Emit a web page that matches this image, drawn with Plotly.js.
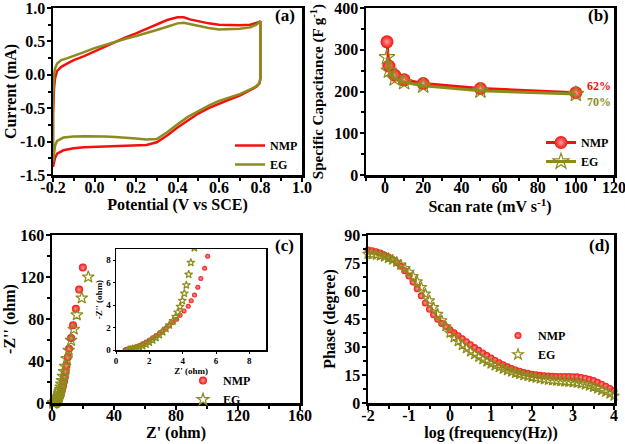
<!DOCTYPE html>
<html><head><meta charset="utf-8">
<script src="https://cdn.plot.ly/plotly-3.0.1.min.js"></script>
<style>html,body{margin:0;padding:0;background:#fff}#g{width:625px;height:444px}</style>
</head><body><div id="g"></div>
<script>
// ---------- Data ----------
// (a) CV
const cvPotential = [-0.2,-0.2,-0.195,-0.19,-0.18,-0.16,-0.13,-0.1,-0.05,0.0,0.05,0.1,0.15,0.2,0.25,0.3,0.35,0.4,0.43,0.46,0.5,0.55,0.6,0.65,0.7,0.75,0.78,0.795,0.8,
  0.8,0.795,0.78,0.75,0.7,0.65,0.6,0.55,0.5,0.45,0.4,0.35,0.3,0.25,0.2,0.15,0.1,0.05,0.0,-0.05,-0.1,-0.15,-0.18,-0.19,-0.2];
const cvNMP = [-1.38,-0.6,-0.2,-0.05,0.06,0.12,0.17,0.22,0.28,0.35,0.43,0.5,0.56,0.62,0.69,0.76,0.82,0.86,0.86,0.83,0.8,0.77,0.75,0.74,0.74,0.75,0.77,0.79,0.8,
  -0.05,-0.13,-0.18,-0.23,-0.31,-0.37,-0.43,-0.5,-0.58,-0.68,-0.79,-0.91,-1.01,-1.05,-1.055,-1.055,-1.06,-1.07,-1.075,-1.085,-1.1,-1.13,-1.18,-1.24,-1.38];
const cvEG = [-1.3,-0.4,0.0,0.1,0.17,0.22,0.25,0.28,0.34,0.4,0.45,0.5,0.54,0.58,0.62,0.67,0.72,0.77,0.78,0.76,0.73,0.7,0.68,0.68,0.69,0.71,0.75,0.79,0.8,
  -0.05,-0.12,-0.17,-0.22,-0.29,-0.34,-0.39,-0.46,-0.54,-0.63,-0.74,-0.86,-0.96,-0.97,-0.955,-0.94,-0.93,-0.925,-0.92,-0.92,-0.925,-0.94,-0.99,-1.06,-1.3];

// (b) specific capacitance
const scanRate = [1,2,5,10,20,50,100];
const capNMP = [319,261,239,228,219,207,197];
const capEG  = [282,250,231,222,214,202,194];

// (c) Nyquist
const zReNMP = [0.55,0.6,0.7,0.85,1.0,1.2,1.4,1.6,1.8,2.0,2.2,2.4,2.6,2.8,3.0,3.2,3.42,3.64,3.84,4.08,4.33,4.51,4.71,4.91,5.09,5.32,5.5,
  5.85,6.25,6.7,7.2,7.75,8.3,8.8,9.3,10.2,11.0,12.3,13.6,15.4,17.5,19.9];
const zImNMP = [0.0,0.04,0.08,0.13,0.19,0.28,0.4,0.55,0.72,0.9,1.1,1.3,1.5,1.72,1.95,2.18,2.44,2.74,3.1,3.48,3.89,4.39,4.9,5.6,6.37,7.29,8.35,
  9.9,11.9,14.3,17.1,20.6,24.7,29.6,35.5,43.5,51.6,62,74,89.7,108,129];
const zReEG = [0.75,0.85,1.0,1.2,1.4,1.6,1.8,2.0,2.2,2.4,2.6,2.8,3.0,3.2,3.42,3.58,3.7,3.84,3.98,4.1,4.22,4.36,4.49,
  4.7,4.95,5.25,5.6,6.05,6.55,7.1,7.75,8.45,9.5,10.8,12.3,14.05,16.0,19.2,23.4];
const zImEG = [0.0,0.04,0.09,0.16,0.26,0.37,0.51,0.68,0.88,1.1,1.35,1.62,1.9,2.22,2.59,2.97,3.36,3.86,4.39,5.04,5.78,6.73,7.79,
  9.1,10.8,12.8,15.2,18.0,21.4,25.4,30.0,35.0,42.3,50.3,59.7,70.3,83.9,100,120];

// (d) Bode phase
const logFreq = [-2.0,-1.9,-1.8,-1.7,-1.6,-1.5,-1.4,-1.3,-1.2,-1.1,-1.0,-0.9,-0.8,-0.7,-0.6,-0.5,-0.4,-0.3,-0.2,-0.1,
  0.0,0.1,0.2,0.3,0.4,0.5,0.6,0.7,0.8,0.9,1.0,1.1,1.2,1.3,1.4,1.5,1.6,1.7,1.8,1.9,
  2.0,2.1,2.2,2.3,2.4,2.5,2.6,2.7,2.8,2.9,3.0,3.1,3.2,3.3,3.4,3.5,3.6,3.7,3.8,3.9,4.0];
const phaseNMP = [82.0,81.6,81.0,80.3,79.3,78.2,76.9,75.2,73.2,70.9,68.0,64.8,61.2,57.4,53.6,50.2,47.3,44.8,42.6,40.8,
  39.2,37.6,36.0,34.4,32.8,31.2,29.7,28.2,26.8,25.4,24.1,22.8,21.6,20.5,19.4,18.5,17.7,17.0,16.4,15.9,
  15.4,15.1,14.8,14.6,14.4,14.3,14.2,14.2,14.2,14.2,14.1,14.0,13.7,13.3,12.7,12.0,11.1,10.1,9.0,7.8,6.5];
const phaseEG = [79.8,79.6,79.3,78.9,78.3,77.6,76.7,75.5,74.0,72.2,70.2,67.8,65.0,61.9,58.5,54.9,51.2,47.6,44.2,41.0,
  37.5,35.1,33.0,31.0,29.2,27.5,26.0,24.6,23.3,22.1,21.0,20.0,19.1,18.2,17.4,16.7,16.0,15.4,14.8,14.3,
  13.8,13.4,13.0,12.6,12.3,12.0,11.8,11.6,11.4,11.2,11.0,10.7,10.3,9.8,9.2,8.5,7.7,6.8,5.9,4.9,3.8];

// tick labels
const tickA_x = [-0.2,0.0,0.2,0.4,0.6,0.8,1.0], tickA_xt = ['-0.2','0.0','0.2','0.4','0.6','0.8','1.0'];
const tickA_y = [-1.5,-1.0,-0.5,0.0,0.5,1.0], tickA_yt = ['-1.5','-1.0','-0.5','0.0','0.5','1.0'];
const tickD_x = [-2,-1,0,1,2,3,4], tickD_xt = ['-2','-1','0','1','2','3','4'];

// ---------- Style ----------
const F = 'Liberation Serif, Times New Roman, serif';
const RED = '#f51010', OLIVE = '#8c8c1c';
function fnt(s, c){ return {family:F, size:s, color:c||'black', weight:'bold'}; }
const minorT = (d, t0)=>Object.assign({dtick:d, ticks:'outside', ticklen:3, tickwidth:2, tickcolor:'black'}, t0!==undefined?{tickmode:'linear', tick0:t0}:{});
function ax(o){
  return Object.assign({showline:true, linecolor:'black', linewidth:2.5, mirror:true,
    ticks:'outside', ticklen:4, tickwidth:2, tickcolor:'black', showgrid:false, zeroline:false,
    ticklabeloverflow:'allow', ticklabelstandoff:-2,
    tickfont:fnt(16), fixedrange:true}, o);
}
const xt = (t)=>({text:t, font:fnt(16), standoff:0});
const yt = (t,s,so)=>({text:t, font:fnt(s), standoff:so});
const sphere = (size)=>({symbol:'circle', size:size, color:RED, gradient:{type:'radial', color:'#ff9a9a'}, line:{width:0}});
const star = (size)=>({symbol:'star-open', size:size, color:OLIVE, line:{width:1.2, color:OLIVE}});

const traces = [
  {x:cvPotential, y:cvNMP, mode:'lines', name:'NMP', line:{color:RED, width:2.5}, xaxis:'x', yaxis:'y', legend:'legend'},
  {x:cvPotential, y:cvEG, mode:'lines', name:'EG', line:{color:OLIVE, width:2.5}, xaxis:'x', yaxis:'y', legend:'legend'},

  {x:scanRate, y:capNMP, mode:'lines+markers', name:'NMP', line:{color:RED, width:3}, marker:sphere(13), xaxis:'x2', yaxis:'y2', legend:'legend2', cliponaxis:false},
  {x:scanRate, y:capEG, mode:'lines+markers', name:'EG', line:{color:OLIVE, width:3}, marker:star(12), xaxis:'x2', yaxis:'y2', legend:'legend2', cliponaxis:false},

  {x:zReNMP, y:zImNMP, mode:'markers', name:'NMP', marker:sphere(8), xaxis:'x3', yaxis:'y3', legend:'legend3', cliponaxis:false},
  {x:zReEG, y:zImEG, mode:'markers', name:'EG', marker:star(9), xaxis:'x3', yaxis:'y3', legend:'legend3', cliponaxis:false},

  {x:zReNMP, y:zImNMP, mode:'markers', name:'NMP', marker:sphere(5), xaxis:'x5', yaxis:'y5', showlegend:false},
  {x:zReEG, y:zImEG, mode:'markers', name:'EG', marker:star(6), xaxis:'x5', yaxis:'y5', showlegend:false},

  {x:logFreq, y:phaseNMP, mode:'markers', name:'NMP', marker:sphere(7), xaxis:'x4', yaxis:'y4', legend:'legend4', cliponaxis:false},
  {x:logFreq, y:phaseEG, mode:'markers', name:'EG', marker:star(8), xaxis:'x4', yaxis:'y4', legend:'legend4', cliponaxis:false}
];

const H = 444, W = 625;
const px = v=>v/W, py = v=>1 - v/H;
const legBase = {bgcolor:'rgba(0,0,0,0)', font:fnt(12), xanchor:'left', yanchor:'top', itemwidth:30, tracegroupgap:0};
const xlab = {ticklabelstandoff:-8};

const layout = {
  width:W, height:H, margin:{l:0,r:0,t:0,b:0}, paper_bgcolor:'white', plot_bgcolor:'white',
  font:fnt(16), showlegend:true,
  xaxis: ax(Object.assign({domain:[px(53),px(302)], anchor:'y', range:[-0.2,1.0], tickmode:'array', tickvals:tickA_x, ticktext:tickA_xt,
    minor:minorT(0.1,-0.2), title:xt('Potential (V vs SCE)')}, xlab)),
  yaxis: ax({domain:[py(175),py(8)], anchor:'x', range:[-1.5,1.0], tickmode:'array', tickvals:tickA_y, ticktext:tickA_yt,
    minor:minorT(0.25,-1.5), title:yt('Current (mA)', 16, 0)}),
  xaxis2: ax(Object.assign({domain:[px(366),px(614)], anchor:'y2', range:[-10,120], dtick:20, tick0:0,
    minor:minorT(10), title:xt('Scan rate (mV s<sup>-1</sup>)')}, xlab)),
  yaxis2: ax({domain:[py(175),py(8)], anchor:'x2', range:[0,400], dtick:100,
    minor:minorT(50), title:yt('Specific Capacitance (F g<sup>-1</sup>)', 15, 7)}),
  xaxis3: ax(Object.assign({domain:[px(52),px(300)], anchor:'y3', range:[0,160], dtick:40,
    minor:minorT(20), title:xt("Z' (ohm)")}, xlab)),
  yaxis3: ax({domain:[py(403),py(235)], anchor:'x3', range:[0,160], dtick:40,
    minor:minorT(20), title:yt("-Z'' (ohm)", 16, 1)}),
  xaxis4: ax(Object.assign({domain:[px(368),px(614)], anchor:'y4', range:[-2,4], tickmode:'array', tickvals:tickD_x, ticktext:tickD_xt,
    minor:minorT(0.5,-2), title:xt('log (frequency(Hz))')}, xlab)),
  yaxis4: ax({domain:[py(403),py(235)], anchor:'x4', range:[0,90], dtick:15,
    minor:minorT(7.5), title:yt('Phase (degree)', 16, 5)}),
  xaxis5: ax({domain:[px(116),px(266)], anchor:'y5', range:[0,9], dtick:2, linewidth:1.5, ticklen:2, tickwidth:1, ticklabelstandoff:0,
    tickfont:fnt(9), title:{text:"Z' (ohm)", font:fnt(9), standoff:1}}),
  yaxis5: ax({domain:[py(350),py(249)], anchor:'x5', range:[0,9], dtick:2, linewidth:1.5, ticklen:2, tickwidth:1, ticklabelstandoff:0,
    tickfont:fnt(9), title:{text:"-Z'' (ohm)", font:fnt(9), standoff:2}}),
  legend:  Object.assign({}, legBase, {x:px(230), y:py(131)}),
  legend2: Object.assign({}, legBase, {x:px(541), y:py(128)}),
  legend3: Object.assign({}, legBase, {x:px(183), y:py(366)}),
  legend4: Object.assign({}, legBase, {x:px(498), y:py(321)}),
  annotations: [
    {text:'(a)', xref:'paper', yref:'paper', x:px(297), y:py(16), xanchor:'right', yanchor:'middle', showarrow:false, font:fnt(17)},
    {text:'(b)', xref:'paper', yref:'paper', x:px(611), y:py(16), xanchor:'right', yanchor:'middle', showarrow:false, font:fnt(17)},
    {text:'(c)', xref:'paper', yref:'paper', x:px(296), y:py(245), xanchor:'right', yanchor:'middle', showarrow:false, font:fnt(17)},
    {text:'(d)', xref:'paper', yref:'paper', x:px(612), y:py(245), xanchor:'right', yanchor:'middle', showarrow:false, font:fnt(17)},
    {text:'62%', xref:'x2', yref:'y2', x:105, y:212, xanchor:'left', yanchor:'middle', showarrow:false, font:fnt(12, RED)},
    {text:'70%', xref:'x2', yref:'y2', x:105, y:175, xanchor:'left', yanchor:'middle', showarrow:false, font:fnt(12, OLIVE)}
  ]
};

Plotly.newPlot('g', traces, layout, {staticPlot:true, displayModeBar:false});
</script>
</body></html>
